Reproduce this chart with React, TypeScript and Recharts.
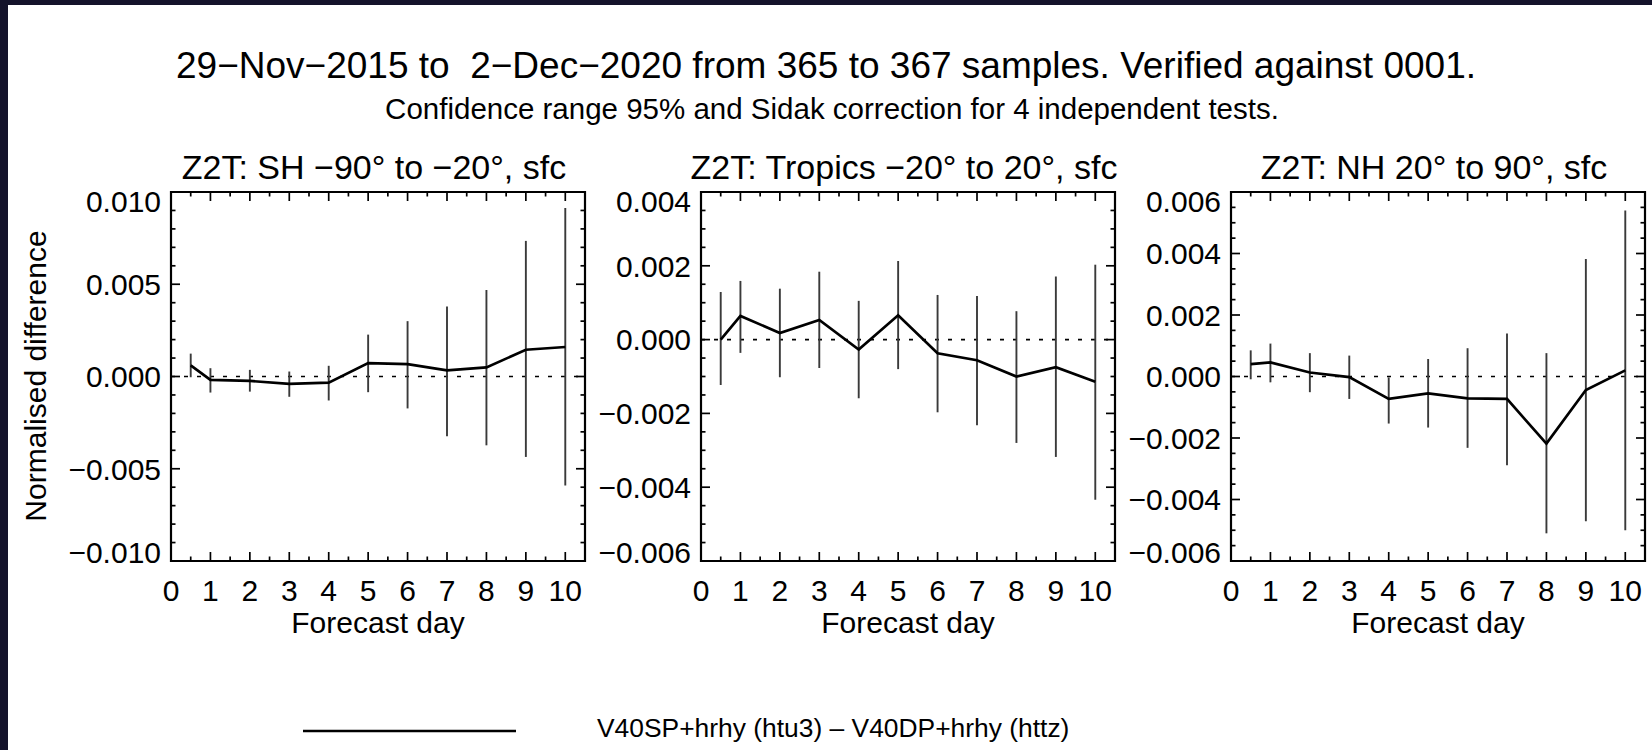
import React from "react";
import { ComposedChart, Line, ErrorBar, XAxis, YAxis, ReferenceLine, ReferenceArea } from "recharts";

const FONT = '"Liberation Sans", Arial, Helvetica, sans-serif';

// forecast days (first point is the 12h step)
const days = [0.5, 1, 2, 3, 4, 5, 6, 7, 8, 9, 10];
const xLabelDays = [0, 1, 2, 3, 4, 5, 6, 7, 8, 9, 10];

// SH -90 to -20
const shMean = [0.0006, -0.00018, -0.00024, -0.0004, -0.00033, 0.00073, 0.00067, 0.00033, 0.00049, 0.00145, 0.0016];
const shHigh = [0.00124, 0.00045, 0.00036, 0.00027, 0.00058, 0.00227, 0.003, 0.0038, 0.00469, 0.00735, 0.00913];
const shLow = [-0.00004, -0.00087, -0.00082, -0.0011, -0.0013, -0.00085, -0.00173, -0.00324, -0.00373, -0.00436, -0.00591];

// Tropics -20 to 20
const trMean = [0.0, 0.00064, 0.00018, 0.00053, -0.00027, 0.00066, -0.00037, -0.00056, -0.001, -0.00075, -0.00114];
const trHigh = [0.00129, 0.00159, 0.00138, 0.00184, 0.00105, 0.00213, 0.00121, 0.00118, 0.00077, 0.00171, 0.00203];
const trLow = [-0.00123, -0.00036, -0.00102, -0.00077, -0.00159, -0.0008, -0.00197, -0.00232, -0.0028, -0.00318, -0.00434];

// NH 20 to 90
const nhMean = [0.0004, 0.00046, 0.00013, -0.00002, -0.00073, -0.00055, -0.00071, -0.00073, -0.00218, -0.00044, 0.0002];
const nhHigh = [0.00085, 0.00107, 0.00076, 0.00068, -0.00003, 0.00057, 0.00092, 0.0014, 0.00076, 0.00382, 0.0054];
const nhLow = [-0.00009, -0.00019, -0.00051, -0.00073, -0.00153, -0.00166, -0.00232, -0.00289, -0.0051, -0.00471, -0.005];

// labelled y ticks per panel
const shMajor = [-0.01, -0.005, 0, 0.005, 0.01];
const trMajor = [-0.006, -0.004, -0.002, 0, 0.002, 0.004];
const nhMajor = [-0.006, -0.004, -0.002, 0, 0.002, 0.004, 0.006];

const PLOT_W = 414;
const PLOT_H = 369;
const AXIS_W = 110;

function steps(lo: number, hi: number, step: number) {
    const out: number[] = [];
    const n = Math.round((hi - lo) / step);
    for (let i = 0; i <= n; i++) out.push(Math.round((lo + i * step) * 1e7) / 1e7);
    return out;
}

const xTicks = steps(0, 10.5, 0.5);

function fmt(v: number) {
    return v.toFixed(3).replace("-", "\u2212");
}

function XTick(props: any) {
    const { x, y, payload } = props;
    const v = payload.value as number;
    const major = xLabelDays.includes(v);
    const len = major ? 9 : 4.5;
    return (
        <g>
            <line x1={x} x2={x} y1={y} y2={y - len} stroke="#000" strokeWidth={1.7} />
            <line x1={x} x2={x} y1={y - PLOT_H} y2={y - PLOT_H + len} stroke="#000" strokeWidth={1.7} />
            {major && (
                <text x={x} y={y + 40} textAnchor="middle" fontSize={30} fontFamily={FONT} fill="#000">
                    {v}
                </text>
            )}
        </g>
    );
}

function makeYTick(majors: number[], lo: number, hi: number) {
    return (props: any) => {
        const { x, y, payload } = props;
        const v = payload.value as number;
        const major = majors.some((m) => Math.abs(m - v) < 1e-9);
        const len = major ? 9 : 4.5;
        let shift = 0;
        if (Math.abs(v - hi) < 1e-9) shift = 9;
        else if (Math.abs(v - lo) < 1e-9) shift = -9;
        return (
            <g>
                <line x1={x} x2={x + len} y1={y} y2={y} stroke="#000" strokeWidth={1.7} />
                <line x1={x + PLOT_W} x2={x + PLOT_W - len} y1={y} y2={y} stroke="#000" strokeWidth={1.7} />
                {major && (
                    <text x={x - 10} y={y + shift} dy="0.36em" textAnchor="end" fontSize={30} fontFamily={FONT} fill="#000">
                        {fmt(v)}
                    </text>
                )}
            </g>
        );
    };
}

type PanelProps = {
    left: number;
    mean: number[];
    high: number[];
    low: number[];
    lo: number;
    hi: number;
    minor: number;
    majors: number[];
};

function Panel({ left, mean, high, low, lo, hi, minor, majors }: PanelProps) {
    const rows = days.map((d, i) => ({ day: d, mean: mean[i], err: [mean[i] - low[i], high[i] - mean[i]] }));
    return (
        <div style={{ position: "absolute", left: left - AXIS_W, top: 182 }}>
            <ComposedChart width={AXIS_W + PLOT_W + 10} height={10 + PLOT_H + 80} data={rows} margin={{ top: 10, right: 10, left: 0, bottom: 0 }}>
                <XAxis
                    dataKey="day"
                    type="number"
                    domain={[0, 10.5]}
                    ticks={xTicks}
                    interval={0}
                    allowDataOverflow
                    axisLine={false}
                    tickLine={false}
                    tickSize={0}
                    tickMargin={0}
                    height={80}
                    tick={XTick}
                />
                <YAxis
                    type="number"
                    domain={[lo, hi]}
                    ticks={steps(lo, hi, minor)}
                    interval={0}
                    allowDataOverflow
                    axisLine={false}
                    tickLine={false}
                    tickSize={0}
                    tickMargin={0}
                    width={AXIS_W}
                    tick={makeYTick(majors, lo, hi)}
                />
                <ReferenceArea x1={0} x2={10.5} y1={lo} y2={hi} fill="none" stroke="#000" strokeWidth={2.2} ifOverflow="visible" />
                <ReferenceLine y={0} stroke="#000" strokeWidth={1.6} strokeDasharray="4 9" />
                <Line dataKey="mean" stroke="#000" strokeWidth={2.7} dot={false} activeDot={false} isAnimationActive={false}>
                    <ErrorBar dataKey="err" direction="y" width={0} stroke="#3a3a3a" strokeWidth={1.9} isAnimationActive={false} />
                </Line>
            </ComposedChart>
        </div>
    );
}

const panelTitles = ["Z2T: SH \u221290\u00b0 to \u221220\u00b0, sfc", "Z2T: Tropics \u221220\u00b0 to 20\u00b0, sfc", "Z2T: NH 20\u00b0 to 90\u00b0, sfc"];
const panelLefts = [171, 701, 1231];

export default function App() {
    return (
        <div style={{ position: "relative", width: 1652, height: 750, background: "#fff", overflow: "hidden", fontFamily: FONT }}>
            <style>{"body{margin:0}"}</style>
            <div style={{ position: "absolute", left: 0, top: 0, width: 1652, height: 5, background: "#14132b" }} />
            <div style={{ position: "absolute", left: 0, top: 0, width: 8, height: 750, background: "#14132b" }} />
            <svg width={1652} height={750} style={{ position: "absolute", left: 0, top: 0 }} fontFamily={FONT} fill="#000">
                <text x={826} y={78} textAnchor="middle" fontSize={37}>
                    29{"\u2212"}Nov{"\u2212"}2015 to {"\u00a0"}2{"\u2212"}Dec{"\u2212"}2020 from 365 to 367 samples. Verified against 0001.
                </text>
                <text x={832} y={119} textAnchor="middle" fontSize={29.5}>
                    Confidence range 95% and Sidak correction for 4 independent tests.
                </text>
                {panelTitles.map((t, i) => (
                    <text key={t} x={panelLefts[i] + PLOT_W / 2 - 4} y={179} textAnchor="middle" fontSize={34}>
                        {t}
                    </text>
                ))}
                {panelLefts.map((l) => (
                    <text key={l} x={l + PLOT_W / 2} y={633} textAnchor="middle" fontSize={30}>
                        Forecast day
                    </text>
                ))}
                <text x={46} y={376} textAnchor="middle" fontSize={30} transform="rotate(-90 46 376)">
                    Normalised difference
                </text>
                <line x1={303} x2={516} y1={731} y2={731} stroke="#000" strokeWidth={2.6} />
                <text x={597} y={737} fontSize={26.4}>
                    V40SP+hrhy (htu3) {"\u2013"} V40DP+hrhy (httz)
                </text>
            </svg>
            <Panel left={panelLefts[0]} mean={shMean} high={shHigh} low={shLow} lo={-0.01} hi={0.01} minor={0.001} majors={shMajor} />
            <Panel left={panelLefts[1]} mean={trMean} high={trHigh} low={trLow} lo={-0.006} hi={0.004} minor={0.0005} majors={trMajor} />
            <Panel left={panelLefts[2]} mean={nhMean} high={nhHigh} low={nhLow} lo={-0.006} hi={0.006} minor={0.0005} majors={nhMajor} />
        </div>
    );
}
